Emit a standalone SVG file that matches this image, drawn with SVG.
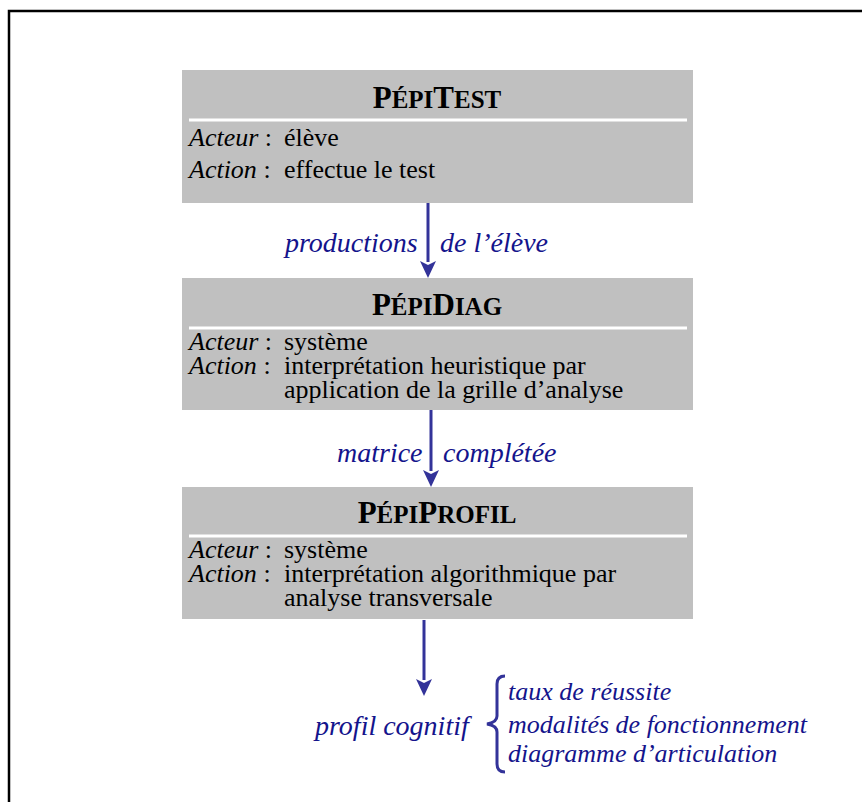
<svg xmlns="http://www.w3.org/2000/svg" width="862" height="802" viewBox="0 0 862 802">
<style>
.box{fill:#c0c0c0}
.sep{stroke:#fff;stroke-width:3}
.title{font-family:"Liberation Serif",serif;font-weight:bold;fill:#000;text-anchor:middle}
.big{font-size:31px}
.sc{font-size:25px}
.body{font-family:"Liberation Serif",serif;font-size:26px;fill:#000}
.it{font-style:italic}
.lab{font-family:"Liberation Serif",serif;font-style:italic;fill:#14148c}
.conn{stroke:#333399;stroke-width:3;fill:none}
</style>
<defs>
<marker id="ah" markerUnits="userSpaceOnUse" markerWidth="16" markerHeight="17" refX="8" refY="17" orient="auto-start-reverse" viewBox="0 0 16 17">
<path d="M0,0 L8,4 L16,0 L8,17 Z" fill="#333399" transform="rotate(0)"/>
</marker>
</defs>
<rect width="862" height="802" fill="#fff"/>
<path d="M9,802 V11 H862" fill="none" stroke="#000" stroke-width="2.5"/>

<g id="connectors">
<line class="conn" x1="428" y1="203" x2="428" y2="262"/>
<path d="M420,261 L428,265 L436,261 L428,278 Z" fill="#333399"/>
<line class="conn" x1="431" y1="410" x2="431" y2="471"/>
<path d="M423,470 L431,474 L439,470 L431,487 Z" fill="#333399"/>
<line class="conn" x1="424" y1="620" x2="424" y2="680"/>
<path d="M416,679 L424,683 L432,679 L424,696 Z" fill="#333399"/>
</g>

<g id="pepitest">
<rect class="box" x="182" y="70" width="511" height="133"/>
<line class="sep" x1="189" y1="120" x2="687" y2="120"/>
<text class="title" x="437" y="108"><tspan class="big">P</tspan><tspan class="sc">ÉPI</tspan><tspan class="big">T</tspan><tspan class="sc">EST</tspan></text>
<text class="body" x="189" y="146"><tspan class="it">Acteur</tspan> :</text>
<text class="body" x="284" y="146">élève</text>
<text class="body" x="189" y="178"><tspan class="it">Action</tspan> :</text>
<text class="body" x="284" y="178">effectue le test</text>
</g>

<g id="pepidiag">
<rect class="box" x="182" y="278" width="511" height="132"/>
<line class="sep" x1="189" y1="328" x2="687" y2="328"/>
<text class="title" x="437" y="315"><tspan class="big">P</tspan><tspan class="sc">ÉPI</tspan><tspan class="big">D</tspan><tspan class="sc">IAG</tspan></text>
<text class="body" x="189" y="350"><tspan class="it">Acteur</tspan> :</text>
<text class="body" x="284" y="350">système</text>
<text class="body" x="189" y="374"><tspan class="it">Action</tspan> :</text>
<text class="body" x="284" y="374">interprétation heuristique par</text>
<text class="body" x="284" y="398">application de la grille d’analyse</text>
</g>

<g id="pepiprofil">
<rect class="box" x="182" y="487" width="511" height="132"/>
<line class="sep" x1="189" y1="536" x2="687" y2="536"/>
<text class="title" x="437" y="523"><tspan class="big">P</tspan><tspan class="sc">ÉPI</tspan><tspan class="big">P</tspan><tspan class="sc">ROFIL</tspan></text>
<text class="body" x="189" y="558"><tspan class="it">Acteur</tspan> :</text>
<text class="body" x="284" y="558">système</text>
<text class="body" x="189" y="582"><tspan class="it">Action</tspan> :</text>
<text class="body" x="284" y="582">interprétation algorithmique par</text>
<text class="body" x="284" y="606">analyse transversale</text>
</g>

<g id="labels">
<text class="lab" x="285" y="252" font-size="28">productions</text>
<text class="lab" x="440" y="252" font-size="28">de l’élève</text>
<text class="lab" x="337" y="462" font-size="28">matrice</text>
<text class="lab" x="443" y="462" font-size="28">complétée</text>
</g>

<g id="profil">
<text class="lab" x="315" y="735" font-size="28">profil cognitif</text>
<path d="M505,676 C499,676 497,679 497,684 L497,716 C497,720 493,723 487,724 C493,725 497,728 497,732 L497,764 C497,769 499,772 505,772" fill="none" stroke="#333399" stroke-width="3"/>
<text class="lab" x="508" y="700" font-size="26">taux de réussite</text>
<text class="lab" x="508" y="733" font-size="26">modalités de fonctionnement</text>
<text class="lab" x="508" y="762" font-size="26">diagramme d’articulation</text>
</g>
</svg>
